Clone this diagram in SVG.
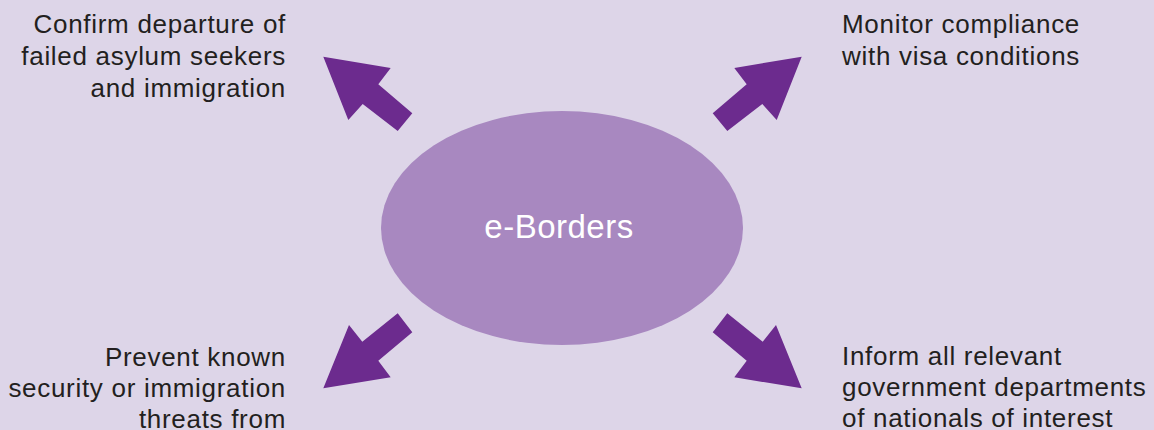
<svg xmlns="http://www.w3.org/2000/svg" width="1154" height="430" viewBox="0 0 1154 430">
<style>
.lbl{font-family:"Liberation Sans",Arial,sans-serif;font-size:26px;letter-spacing:0.7px;fill:#231f20}
.end{text-anchor:end}
.arrow{fill:#6c2b8e}
.hub{fill:#a888c0}
.hubt{font-family:"Liberation Sans",Arial,sans-serif;font-size:33px;letter-spacing:0.5px;fill:#ffffff;text-anchor:middle}
</style>
<rect width="1154" height="430" fill="#ddd5e8"/>
<g id="connectors">
<polygon class="arrow" points="323.3,56.7 390.7,68 378.3,84.3 412.3,113.3 397.7,131 362.7,104 348.3,120"/>
<polygon class="arrow" points="801.7,56.7 734.3,68 746.7,84.3 712.7,113.3 727.3,131 762.3,104 776.7,120"/>
<polygon class="arrow" points="323.3,388.3 349,325 362.3,341.7 397.7,313.3 412.3,332.3 378.3,360.7 390.7,377.3"/>
<polygon class="arrow" points="801.7,388.3 776,325 762.7,341.7 727.3,313.3 712.7,332.3 746.7,360.7 734.3,377.3"/>
</g>
<g id="hub">
<ellipse class="hub" cx="562" cy="228" rx="181" ry="117"/>
<text class="hubt" x="559" y="238">e-Borders</text>
</g>
<g id="n-confirm">
<text class="lbl end" x="286" y="33">Confirm departure of</text>
<text class="lbl end" x="286" y="65">failed asylum seekers</text>
<text class="lbl end" x="286" y="97">and immigration</text>
</g>
<g id="n-monitor">
<text class="lbl" x="842" y="33">Monitor compliance</text>
<text class="lbl" x="842" y="65">with visa conditions</text>
</g>
<g id="n-prevent">
<text class="lbl end" x="286" y="366">Prevent known</text>
<text class="lbl end" x="286" y="397">security or immigration</text>
<text class="lbl end" x="286" y="428">threats from</text>
</g>
<g id="n-inform">
<text class="lbl" x="842" y="365">Inform all relevant</text>
<text class="lbl" x="842" y="396">government departments</text>
<text class="lbl" x="842" y="427">of nationals of interest</text>
</g>
</svg>
